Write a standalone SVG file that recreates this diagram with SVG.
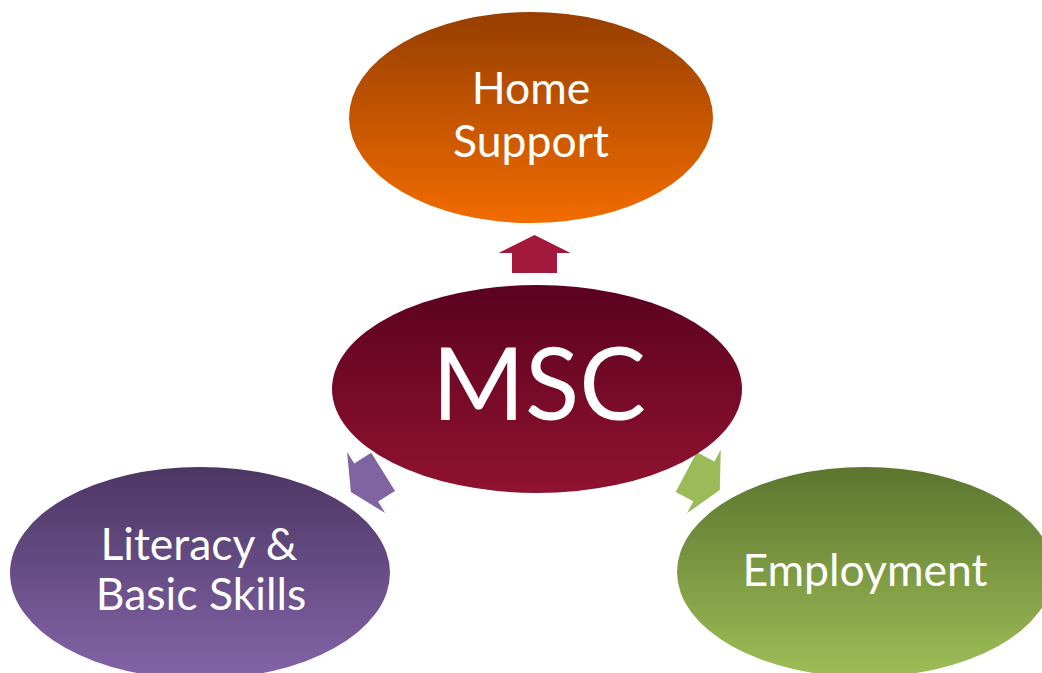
<svg xmlns="http://www.w3.org/2000/svg" width="1042" height="673" viewBox="0 0 1042 673">
  <defs>
    <linearGradient id="gOrange" x1="0" y1="0" x2="0" y2="1">
      <stop offset="0" stop-color="#963E00"/>
      <stop offset="1" stop-color="#F26C00"/>
    </linearGradient>
    <linearGradient id="gRed" x1="0" y1="0" x2="0" y2="1">
      <stop offset="0" stop-color="#5A0220"/>
      <stop offset="1" stop-color="#901230"/>
    </linearGradient>
    <linearGradient id="gPurple" x1="0" y1="0" x2="0" y2="1">
      <stop offset="0" stop-color="#4B3663"/>
      <stop offset="1" stop-color="#8464A8"/>
    </linearGradient>
    <linearGradient id="gGreen" x1="0" y1="0" x2="0" y2="1">
      <stop offset="0" stop-color="#5C752F"/>
      <stop offset="1" stop-color="#9EBE57"/>
    </linearGradient>
    <!-- block arrow pointing up, centred on the origin -->
    <path id="blockArrow" d="M0,-19 L36,-1 L22.5,-1 L22.5,19 L-22.5,19 L-22.5,-1 L-36,-1 Z"/>
  </defs>
  <style>
    .lbl { font-family: Lato, "Open Sans", "Liberation Sans", sans-serif; fill: #FFFFFF; text-anchor: middle; }
    .sm { font-size: 44.5px; }
    .big { font-size: 100px; }
  </style>
  <rect width="1042" height="673" fill="#FFFFFF"/>

  <g id="connectors">
    <use href="#blockArrow" transform="translate(534.5,254)" fill="#A3193D"/>
    <use href="#blockArrow" transform="translate(367,482) rotate(-122)" fill="#8064A2"/>
    <use href="#blockArrow" transform="translate(703,481) rotate(118)" fill="#9BBB59"/>
  </g>

  <g id="home-support">
    <ellipse cx="531" cy="117.5" rx="182" ry="105.5" fill="url(#gOrange)"/>
    <text class="lbl sm" x="531" y="104">Home</text>
    <text class="lbl sm" x="531" y="157">Support</text>
  </g>

  <g id="msc">
    <ellipse cx="537" cy="389" rx="205" ry="104" fill="url(#gRed)"/>
    <text class="lbl big" x="539" y="420">MSC</text>
  </g>

  <g id="literacy">
    <ellipse cx="200" cy="573" rx="190" ry="106" fill="url(#gPurple)"/>
    <text class="lbl sm" x="199" y="560">Literacy &amp;</text>
    <text class="lbl sm" x="201" y="610">Basic Skills</text>
  </g>

  <g id="employment">
    <ellipse cx="865" cy="572" rx="188" ry="105" fill="url(#gGreen)"/>
    <text class="lbl sm" x="865" y="586">Employment</text>
  </g>
</svg>
